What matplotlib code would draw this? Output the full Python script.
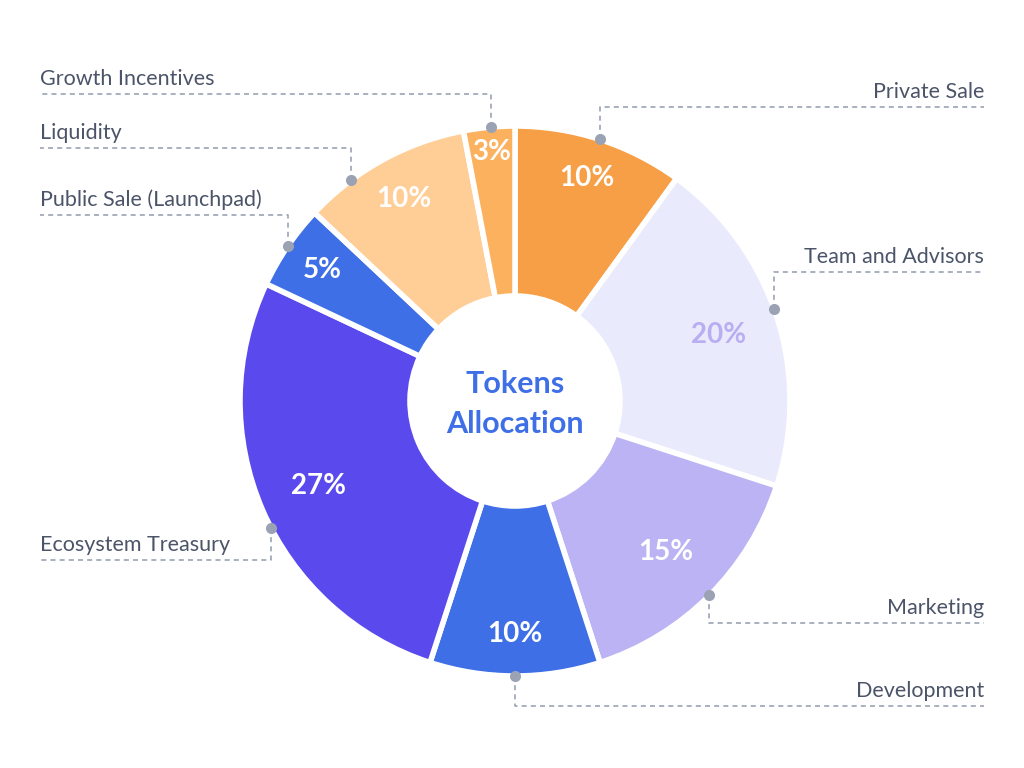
import matplotlib
matplotlib.use("Agg")
import matplotlib.pyplot as plt
import numpy as np

# --- data -----------------------------------------------------------------------------
categories = ["Private Sale", "Team and Advisors", "Marketing", "Development",
              "Ecosystem Treasury", "Public Sale (Launchpad)", "Liquidity",
              "Growth Incentives"]
shares = [10, 20, 15, 10, 27, 5, 10, 3]
colors = ["#F79F47", "#E9EAFC", "#BBB3F3", "#3E6FE7",
          "#5A4AEE", "#3E6FE7", "#FFCE97", "#FCB15E"]
pct_colors = ["white", "#B8AFF2", "white", "white", "white", "white", "white", "white"]

# --- layout (pixel space, y measured from the top) --------------------------------------
W, H = 1024, 768
CX, CY = 515, 401
R_OUT, R_IN = 275, 105
pct_radius = [234, 214, 213, 233, 214, 233, 230, 250]
dot_offset = [0, 1.5, 0, 0, 4, 0, 7.7, -0.4]      # degrees, nudge of the leader dot
elbow_y = [107, 272, 623, 706, 560, 215, 148, 94]  # horizontal leader line height
side = ["R", "R", "R", "R", "L", "L", "L", "L"]
X_LEFT, X_RIGHT = 40, 984

LINE_C = "#9AA2B4"
TEXT_C = "#4B5468"
FONT = ["Lato", "DejaVu Sans"]


def Y(y):
    return H - y


fig = plt.figure(figsize=(W / 100, H / 100), dpi=100)
ax = fig.add_axes([0, 0, 1, 1])

wedges, _ = ax.pie(shares, colors=colors, startangle=90, counterclock=False,
                   radius=R_OUT, center=(CX, Y(CY)),
                   wedgeprops=dict(width=R_OUT - R_IN, edgecolor="white", linewidth=4))

for i, w in enumerate(wedges):
    mid = np.deg2rad((w.theta1 + w.theta2) / 2)
    px = CX + pct_radius[i] * np.cos(mid)
    py = Y(CY) + pct_radius[i] * np.sin(mid)
    ax.text(px, py, f"{shares[i]}%", ha="center", va="center", fontsize=20,
            fontweight="bold", color=pct_colors[i], family=FONT)

    # leader: dot on the rim, dashed elbow, label above the horizontal run
    a = np.deg2rad((w.theta1 + w.theta2) / 2 + dot_offset[i])
    dx = CX + R_OUT * np.cos(a)
    dy = Y(CY) + R_OUT * np.sin(a)
    ey = Y(elbow_y[i])
    x_end = X_RIGHT if side[i] == "R" else X_LEFT
    ax.plot([dx, dx, x_end], [dy, ey, ey], color=LINE_C, lw=1.2,
            dashes=(3, 2.5), solid_capstyle="butt", zorder=3)
    ax.plot([dx], [dy], marker="o", markersize=8, color=LINE_C, mec="none", zorder=4)
    ax.text(x_end, ey + 5, categories[i], ha="right" if side[i] == "R" else "left",
            va="bottom", fontsize=15.5, color=TEXT_C, family=FONT)

ax.text(CX, Y(CY + 3), "Tokens\nAllocation", ha="center", va="center", fontsize=22,
        fontweight="bold", color="#3E6FE7", family=FONT, linespacing=1.5)

ax.set_xlim(0, W)
ax.set_ylim(0, H)
ax.set_aspect("equal")
ax.axis("off")

fig.savefig("out.png", dpi=100, facecolor="white")
